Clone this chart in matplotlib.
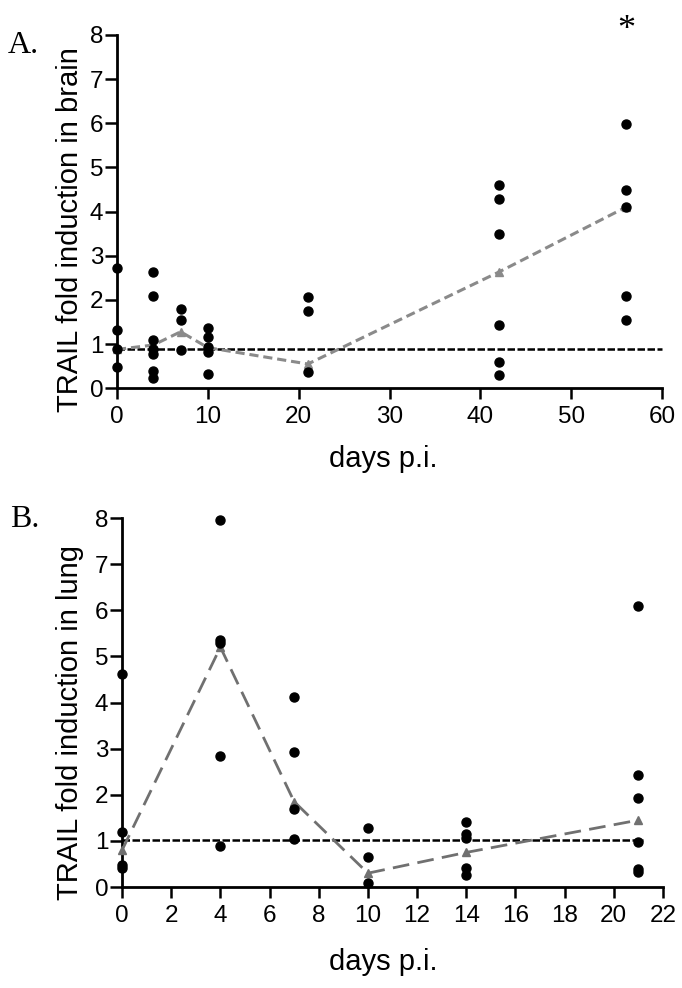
import matplotlib

matplotlib.use("Agg")
import matplotlib.pyplot as plt

plt.rcParams["font.family"] = ["Liberation Sans", "DejaVu Sans"]

# panel A: brain
brain_days = [0, 0, 0, 0, 4, 4, 4, 4, 4, 4, 4, 7, 7, 7, 10, 10, 10, 10, 10,
              21, 21, 21, 42, 42, 42, 42, 42, 42, 56, 56, 56, 56, 56]
brain_vals = [2.73, 1.33, 0.88, 0.49, 2.63, 2.10, 1.10, 0.88, 0.78, 0.40, 0.23,
              1.80, 1.55, 0.87, 1.36, 1.16, 0.93, 0.82, 0.33,
              2.06, 1.74, 0.38, 4.60, 4.28, 3.49, 1.44, 0.59, 0.31,
              5.99, 4.48, 4.11, 2.08, 1.55]
brain_mean_days = [0, 4, 7, 10, 21, 42, 56]
brain_means = [0.88, 0.98, 1.28, 0.92, 0.55, 2.63, 4.10]
brain_baseline = 0.90

# panel B: lung
lung_days = [0, 0, 0, 0, 4, 4, 4, 4, 4, 7, 7, 7, 7, 10, 10, 10,
             14, 14, 14, 14, 14, 21, 21, 21, 21, 21, 21]
lung_vals = [4.61, 1.20, 0.48, 0.42, 7.95, 5.35, 5.28, 2.83, 0.88,
             4.13, 2.92, 1.70, 1.04, 1.27, 0.65, 0.08,
             1.42, 1.15, 1.07, 0.42, 0.25, 6.10, 2.42, 1.94, 0.98, 0.38, 0.33]
lung_mean_days = [0, 4, 7, 10, 14, 21]
lung_means = [0.80, 5.20, 1.85, 0.30, 0.75, 1.45]
lung_baseline = 1.02


def style_axes(ax, xmax, xstep, ylabel, ylab_xy, xlab_xy):
    for s in ["top", "right"]:
        ax.spines[s].set_visible(False)
    for s in ["left", "bottom"]:
        ax.spines[s].set_linewidth(2)
    ax.set_xlim(0, xmax)
    ax.set_ylim(0, 8)
    ax.set_xticks(range(0, xmax + 1, xstep))
    ax.set_yticks(range(0, 9))
    ax.tick_params(axis="x", width=1.8, length=8, labelsize=17.5, pad=5)
    ax.tick_params(axis="y", width=1.8, length=8.5, labelsize=17.5, pad=1.5)
    ax.set_xlabel("days p.i.", fontsize=21)
    ax.set_ylabel(ylabel, fontsize=21)
    ax.yaxis.set_label_coords(*ylab_xy)
    ax.xaxis.set_label_coords(*xlab_xy)


fig = plt.figure(figsize=(6.82, 9.88), dpi=100)

# A
axA = fig.add_axes([0.1716, 0.607, 0.7994, 0.3576])
axA.plot([0, 60], [brain_baseline] * 2, color="black", lw=1.8,
         dashes=(3, 1), zorder=2, clip_on=False)
axA.plot(brain_mean_days, brain_means, color="#8a8a8a", lw=2.2, dashes=(3, 1.6),
         marker="^", ms=6, zorder=3, clip_on=False)
axA.plot(brain_days, brain_vals, "o", color="black", ms=6.5, zorder=4, clip_on=False)
axA.text(56, 8.11, "*", ha="center", va="center", fontsize=26,
         family="Liberation Serif")
style_axes(axA, 60, 10, "TRAIL fold induction in brain", (-0.06, 0.45), (0.488, -0.161))
fig.text(0.0117, 0.9464, "A.", fontsize=23, family="Liberation Serif", va="baseline")

# B
axB = fig.add_axes([0.179, 0.1022, 0.793, 0.3735])
axB.plot([0, 21.2], [lung_baseline] * 2, color="black", lw=1.8,
         dashes=(3, 1), zorder=2, clip_on=False)
axB.plot(lung_mean_days, lung_means, color="#707070", lw=2.0, dashes=(6, 3),
         marker="^", ms=6, zorder=3, clip_on=False)
axB.plot(lung_days, lung_vals, "o", color="black", ms=6.5, zorder=4, clip_on=False)
style_axes(axB, 22, 2, "TRAIL fold induction in lung", (-0.07, 0.447), (0.482, -0.165))
fig.text(0.0147, 0.4666, "B.", fontsize=23, family="Liberation Serif", va="baseline")

fig.savefig("out.png", dpi=100)
